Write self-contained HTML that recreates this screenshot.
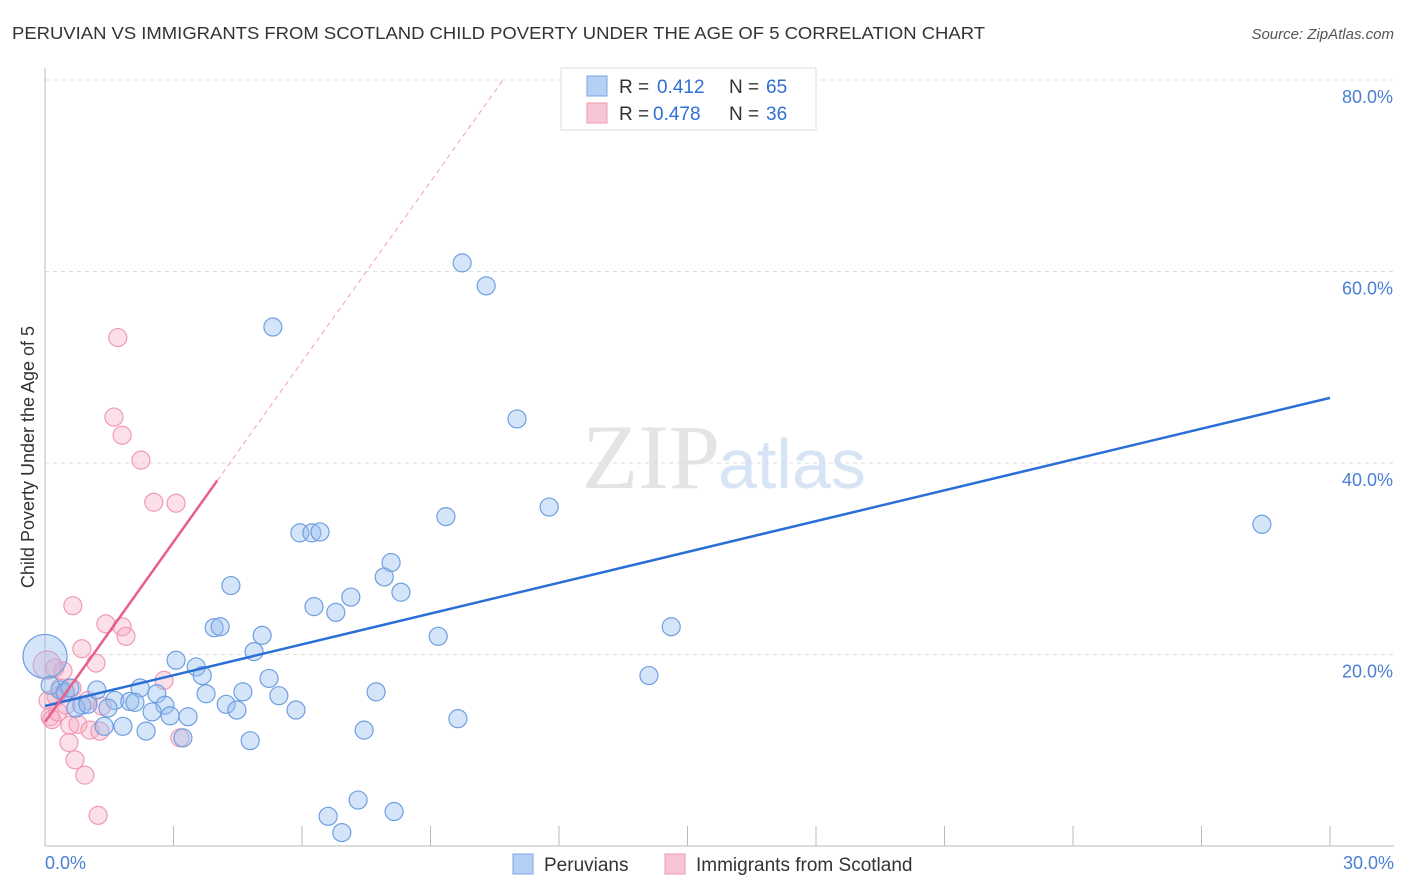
<!DOCTYPE html>
<html><head><meta charset="utf-8"><style>
body{margin:0;background:#fff;font-family:"Liberation Sans",sans-serif;}
</style></head><body>
<svg width="1406" height="892" style="display:block">
<text x="12" y="39" font-size="17.5" fill="#333" textLength="973" lengthAdjust="spacingAndGlyphs">PERUVIAN VS IMMIGRANTS FROM SCOTLAND CHILD POVERTY UNDER THE AGE OF 5 CORRELATION CHART</text>
<text x="1394" y="39" font-size="15" fill="#555" font-style="italic" text-anchor="end">Source: ZipAtlas.com</text>
<text x="720" y="488" font-size="92" fill="#e4e4e4" text-anchor="end" font-family="Liberation Serif">ZIP</text>
<text x="718" y="488" font-size="70" fill="#d6e4f5">atlas</text>
<g id="grid"></g><g id="axes"></g><g id="marks"></g>
<text transform="translate(34,457) rotate(-90)" font-size="18" fill="#333" text-anchor="middle">Child Poverty Under the Age of 5</text>
<text x="45" y="869" font-size="18" fill="#4a7fd4">0.0%</text>
<text x="1394" y="869" font-size="18" fill="#4a7fd4" text-anchor="end">30.0%</text>
<g>
<rect x="561" y="68" width="255" height="62" fill="#fff" stroke="#ddd"/>
<rect x="587" y="76" width="20" height="20" fill="#b5d0f5" stroke="#7aa6e4"/>
<rect x="587" y="103" width="20" height="20" fill="#f8c5d5" stroke="#ef9ab5"/>
<text x="619" y="93" font-size="19" fill="#333">R =</text>
<text x="657" y="93" font-size="19" fill="#2f6fd6">0.412</text>
<text x="729" y="93" font-size="19" fill="#333">N =</text>
<text x="766" y="93" font-size="19" fill="#2f6fd6">65</text>
<text x="619" y="120" font-size="19" fill="#333">R =</text>
<text x="653" y="120" font-size="19" fill="#2f6fd6">0.478</text>
<text x="729" y="120" font-size="19" fill="#333">N =</text>
<text x="766" y="120" font-size="19" fill="#2f6fd6">36</text>
</g>
<g>
<rect x="513" y="854" width="20" height="20" fill="#b5d0f5" stroke="#7aa6e4"/>
<text x="544" y="871" font-size="19" fill="#333">Peruvians</text>
<rect x="665" y="854" width="20" height="20" fill="#f8c5d5" stroke="#ef9ab5"/>
<text x="696" y="871" font-size="19" fill="#333">Immigrants from Scotland</text>
</g>
</svg>
<script>
const yTicks=[20,40,60,80];
const xTicks=[0,3,6,9,12,15,18,21,24,27,30];
const blueX=[9.74,10.30,5.32,11.02,11.77,9.36,28.41,5.95,6.23,6.42,8.08,7.92,4.34,8.31,7.14,6.28,6.79,14.62,3.95,4.09,9.18,5.07,4.88,3.06,3.53,3.67,5.23,14.10,2.22,2.61,4.62,7.73,1.21,3.76,5.46,1.63,1.98,2.10,2.80,4.23,4.48,5.86,2.50,2.92,3.34,1.47,0.86,0.72,1.00,0.35,0.47,0.58,1.82,2.36,1.38,9.64,7.45,3.22,4.79,7.31,6.61,8.15,6.93,0.0,0.12];
const blueY=[60.9,58.5,54.2,44.6,35.4,34.4,33.6,32.7,32.7,32.8,29.6,28.1,27.2,26.5,26.0,25.0,24.4,22.9,22.8,22.9,21.9,22.0,20.3,19.4,18.7,17.8,17.5,17.8,16.5,15.9,16.1,16.1,16.3,15.9,15.7,15.2,15.1,15.0,14.7,14.8,14.2,14.2,14.0,13.6,13.5,14.4,14.7,14.4,14.8,16.3,16.1,16.5,12.5,12.0,12.5,13.3,12.1,11.3,11.0,4.8,3.1,3.6,1.4,19.8,16.8];
const pinkX=[1.70,1.61,1.80,2.24,2.54,3.06,0.65,1.42,1.80,1.89,0.86,1.19,0.42,0.23,0.35,0.63,0.47,1.00,1.33,2.78,0.26,0.12,0.16,0.58,0.77,1.05,1.28,3.15,0.56,0.70,0.93,1.24,0.05,0.30,0.07,0.49];
const pinkY=[53.1,44.8,42.9,40.3,35.9,35.8,25.1,23.2,22.9,21.9,20.6,19.1,18.3,18.6,16.5,16.5,16.0,15.2,14.6,17.3,15.6,13.5,13.2,12.6,12.7,12.1,12.0,11.3,10.8,9.0,7.4,3.2,18.9,14.0,15.2,14.7];
const blueTrend=[14.62,46.8];
const pinkTrend=[12.95,6.27];
const X=v=>45+v*42.833, Y=v=>846-v*9.575;
const NS="http://www.w3.org/2000/svg";
function mk(tag,attrs,parent){const e=document.createElementNS(NS,tag);for(const k in attrs)e.setAttribute(k,attrs[k]);document.getElementById(parent).appendChild(e);return e;}
yTicks.forEach(t=>{
 const l=mk('line',{x1:45,x2:1394,y1:Y(t),y2:Y(t),stroke:'#ddd','stroke-dasharray':'4,4'},'grid');
 
 
 const tx=mk('text',{x:1393,y:Y(t)+23,'font-size':18,fill:'#4a7fd4','text-anchor':'end'},'grid');
 tx.textContent=t.toFixed(1)+'%';
 
 
});
const ax=mk('line',{x1:45,x2:45,y1:68,y2:846,stroke:'#bbb'},'axes');


const bx=mk('line',{x1:45,x2:1394,y1:846,y2:846,stroke:'#bbb'},'axes');


xTicks.forEach(t=>{
 const l=mk('line',{x1:X(t),x2:X(t),y1:826,y2:846,stroke:'#bbb'},'axes');
 
 
});
function dot(x,y,r,fill,stroke,name){
 const c=mk('circle',{cx:X(x),cy:Y(y),r:r,fill:fill,stroke:stroke,'stroke-width':1.2},'marks');
 
 
}
pinkX.forEach((x,i)=>dot(x,pinkY[i],i==32?14:9,'rgba(245,165,192,0.35)','#f09ab4','scotland-point'));
blueX.forEach((x,i)=>dot(x,blueY[i],i==63?22:9,'rgba(150,190,240,0.4)','#6f9fe0','peruvian-point'));
const bl=mk('line',{x1:X(0),y1:Y(blueTrend[0]),x2:X(30),y2:Y(blueTrend[1]),stroke:'#2a6fd6','stroke-width':2.5},'marks');


const pe=(80-pinkTrend[0])/pinkTrend[1];
const pd=mk('line',{x1:X(4.02),y1:Y(pinkTrend[0]+pinkTrend[1]*4.02),x2:X(pe),y2:Y(80),stroke:'#f0a0b8','stroke-width':1,'stroke-dasharray':'5,4'},'marks');


const pl=mk('line',{x1:X(0),y1:Y(pinkTrend[0]),x2:X(4.02),y2:Y(pinkTrend[0]+pinkTrend[1]*4.02),stroke:'#e8608a','stroke-width':2.5},'marks');


</script>
</body></html>
